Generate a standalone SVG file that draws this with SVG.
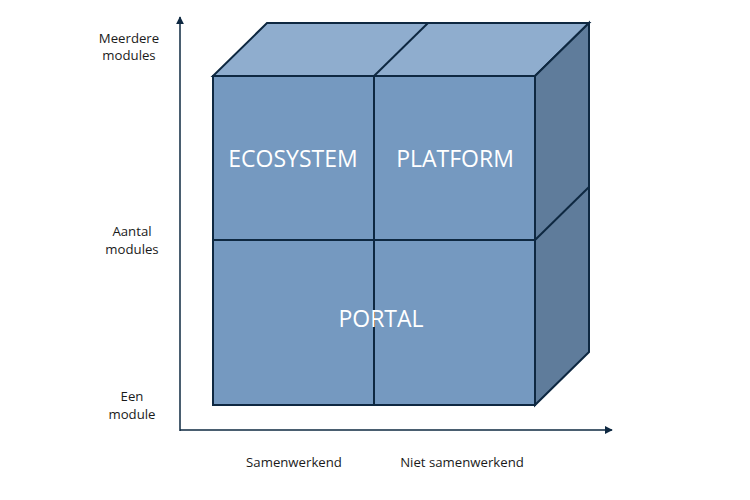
<svg xmlns="http://www.w3.org/2000/svg" width="750" height="500" viewBox="0 0 750 500">
<style>
.face{stroke:#0e2841;stroke-width:2;stroke-linejoin:miter}
.front{fill:#7599c0}
.top{fill:#8fadce}
.side{fill:#5f7c9b}
.lbl{font-family:"Open Sans","Liberation Sans",sans-serif;font-size:13.2px;fill:#1a1a1a;text-anchor:middle}
.big{font-family:"Open Sans","Liberation Sans",sans-serif;font-size:23px;fill:#ffffff;text-anchor:middle}
.axis{stroke:#0e2841;stroke-width:1.5;fill:none}
</style>
<defs>
<marker id="ah" viewBox="0 0 10 10" refX="9" refY="5" markerWidth="8" markerHeight="8" orient="auto" markerUnits="userSpaceOnUse">
<path d="M0,0 L10,5 L0,10 z" fill="#0e2841"/>
</marker>
</defs>
<g id="connectors">
<line class="axis" x1="180" y1="431" x2="180" y2="17" marker-end="url(#ah)"/>
<line class="axis" x1="180" y1="430" x2="612" y2="430" marker-end="url(#ah)"/>
</g>
<g id="cube">
<polygon class="face top" points="213,76 267,23 589,23 535,76"/>
<polygon class="face side" points="535,76 589,23 589,352 535,405"/>
<line class="face" x1="374" y1="76" x2="428" y2="23"/>
<line class="face" x1="535" y1="240" x2="589" y2="187"/>
</g>
<g id="ecosystem">
<rect class="face front" x="213" y="76" width="161" height="164"/>
<text class="big" x="293" y="167">ECOSYSTEM</text>
</g>
<g id="platform">
<rect class="face front" x="374" y="76" width="161" height="164"/>
<text class="big" x="455" y="167">PLATFORM</text>
</g>
<g id="portal">
<rect class="face front" x="213" y="240" width="322" height="165"/>
<line class="face" x1="374" y1="240" x2="374" y2="405"/>
<text class="big" x="381" y="327">PORTAL</text>
</g>
<g id="labels">
<text class="lbl" x="129" y="43">Meerdere</text>
<text class="lbl" x="129" y="60">modules</text>
<text class="lbl" x="132" y="236">Aantal</text>
<text class="lbl" x="132" y="254">modules</text>
<text class="lbl" x="132" y="401">Een</text>
<text class="lbl" x="132" y="419">module</text>
<text class="lbl" x="294" y="467">Samenwerkend</text>
<text class="lbl" x="462" y="467">Niet samenwerkend</text>
</g>
</svg>
